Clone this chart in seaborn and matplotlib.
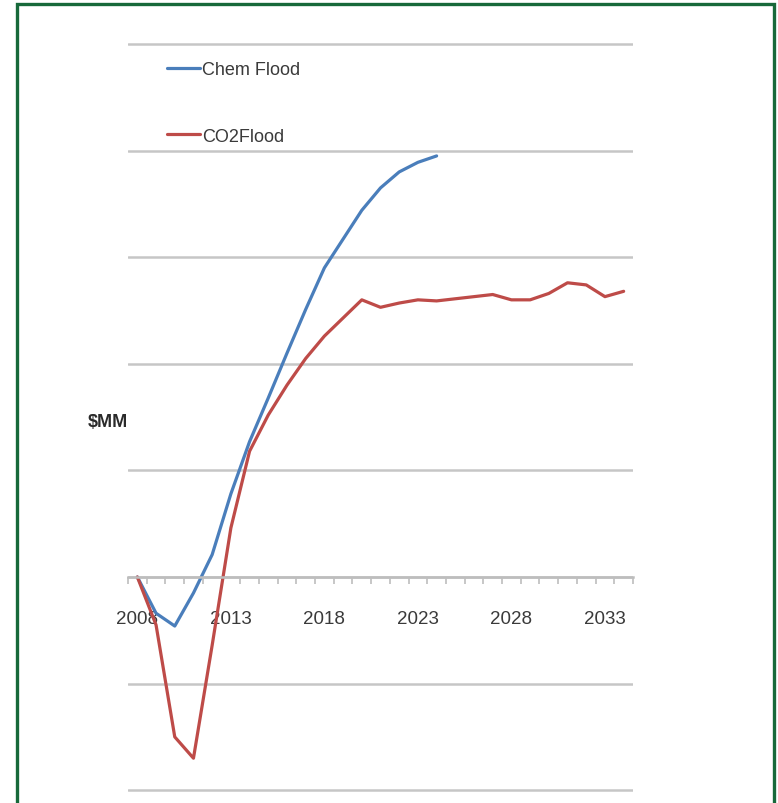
import numpy as np
import pandas as pd
import matplotlib
matplotlib.use("Agg")
import matplotlib.pyplot as plt
from matplotlib.patches import Rectangle
from matplotlib.ticker import MultipleLocator, FixedLocator
import seaborn as sns

# Cumulative cash flow by year, $MM (one unit per gridline)
years_chem = list(range(2008, 2025))
chem_flood = [0.00, -0.34, -0.46, -0.15, 0.21, 0.78, 1.27, 1.68, 2.10,
              2.51, 2.90, 3.17, 3.44, 3.65, 3.80, 3.89, 3.95]

years_co2 = list(range(2008, 2035))
co2_flood = [0.00, -0.45, -1.50, -1.70, -0.64, 0.46, 1.18, 1.52, 1.80,
             2.05, 2.26, 2.43, 2.60, 2.53, 2.57, 2.60, 2.59, 2.61,
             2.63, 2.65, 2.60, 2.60, 2.66, 2.76, 2.74, 2.63, 2.68]

series_names = ["Chem Flood", "CO2Flood"]
series_colors = {"Chem Flood": "#4a7ebb", "CO2Flood": "#be4b48"}
tick_years = [2008, 2013, 2018, 2023, 2028, 2033]

df = pd.concat([
    pd.DataFrame({"Year": years_chem, "Value": chem_flood, "Series": series_names[0]}),
    pd.DataFrame({"Year": years_co2, "Value": co2_flood, "Series": series_names[1]}),
], ignore_index=True)

sns.set_theme(style="white")
plt.rcParams["font.family"] = ["Liberation Sans", "DejaVu Sans"]

W, H = 778, 804
fig = plt.figure(figsize=(W / 100, H / 100), dpi=100)

ymin, ymax = -2.05, 5.05
px_per_unit = 106.6
ax_h = (ymax - ymin) * px_per_unit
ax_top = 45 - (ymax - 5) * px_per_unit
ax = fig.add_axes([128 / W, 1 - (ax_top + ax_h) / H, 505 / W, ax_h / H])

sns.lineplot(data=df, x="Year", y="Value", hue="Series", hue_order=series_names,
             palette=series_colors, linewidth=2.3, ax=ax, legend=True)

ax.set_xlim(2007.5, 2034.5)
ax.set_ylim(ymin, ymax)

# horizontal gridlines only
ax.yaxis.set_major_locator(MultipleLocator(1))
ax.grid(axis="y", color="#c6c6c6", linewidth=1.8)
ax.grid(axis="x", visible=False)
ax.set_axisbelow(True)
ax.tick_params(axis="y", left=False, labelleft=False)

# category axis sitting on zero
for side in ["top", "right", "left"]:
    ax.spines[side].set_visible(False)
ax.spines["bottom"].set_position(("data", 0))
ax.spines["bottom"].set_color("#bdbdbd")
ax.spines["bottom"].set_linewidth(1.8)
ax.set_xticks(tick_years)
ax.set_xticklabels([str(y) for y in tick_years])
ax.xaxis.set_minor_locator(FixedLocator(np.arange(2007.5, 2035.0, 1.0)))
ax.tick_params(axis="x", which="major", length=0, pad=24, labelsize=13.5,
               labelcolor="#3a3a3a")
ax.tick_params(axis="x", which="minor", bottom=True, length=5, width=1.2,
               color="#bdbdbd", direction="out")
ax.set_xlabel("")
ax.set_ylabel("")

fig.text(88 / W, 1 - 423 / H, r"\$MM", ha="left", va="center",
         fontsize=13, fontweight="bold", color="#2a2a2a")

handles, labels = ax.get_legend_handles_labels()
ax.legend(handles, labels, loc="upper left", frameon=False,
          bbox_to_anchor=(167 / W, 1 - 62 / H), bbox_transform=fig.transFigure,
          fontsize=13, handlelength=1.8, handletextpad=0.15,
          labelspacing=2.75, borderpad=0, borderaxespad=0,
          labelcolor="#3a3a3a")

# green frame around the chart
fig.patches.append(Rectangle((17 / W, -0.02), (774 - 17) / W, 1.02 - 5 / H,
                             transform=fig.transFigure, fill=False,
                             edgecolor="#17693a", linewidth=2.4))

fig.savefig("out.png", dpi=100, facecolor="white")
